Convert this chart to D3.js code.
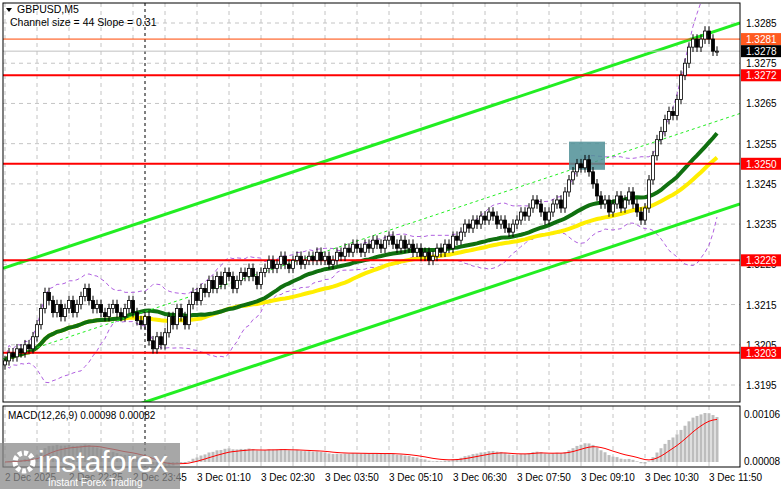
<!DOCTYPE html>
<html><head><meta charset="utf-8">
<script src="https://cdn.jsdelivr.net/npm/d3@7"></script>
<style>body{margin:0;background:#fff}text{font-family:"Liberation Sans",Arial,sans-serif}</style>
</head><body>
<script>
// closes of the M5 bars
var closes = [
 1.3201,1.3203,1.3202,1.3204,1.3203,1.3205,1.3204,1.3207,1.3210,1.3214,
 1.3218,1.3216,1.3213,1.3215,1.3212,1.3214,1.3216,1.3213,1.3215,1.3217,
 1.3219,1.3216,1.3214,1.3215,1.3213,1.3212,1.3214,1.3215,1.3213,1.3212,
 1.3214,1.3216,1.3213,1.3211,1.3210,1.3212,1.3206,1.3204,1.3207,1.3205,
 1.3208,1.3212,1.3210,1.3214,1.3212,1.3210,1.3215,1.3218,1.3216,1.3219,
 1.3218,1.3221,1.3219,1.3222,1.3220,1.3223,1.3222,1.3219,1.3221,1.3223,
 1.3222,1.3224,1.3222,1.3220,1.3223,1.3224,1.3226,1.3224,1.3225,1.3227,
 1.3225,1.3224,1.3226,1.3227,1.3225,1.3226,1.3227,1.3226,1.3228,1.3226,
 1.3227,1.3225,1.3226,1.3228,1.3227,1.3229,1.3228,1.3230,1.3229,1.3228,
 1.3230,1.3229,1.3231,1.3230,1.3229,1.3231,1.3232,1.3230,1.3229,1.3231,
 1.3229,1.3230,1.3228,1.3229,1.3227,1.3228,1.3226,1.3227,1.3229,1.3228,
 1.3230,1.3229,1.3232,1.3231,1.3233,1.3235,1.3234,1.3236,1.3235,1.3237,
 1.3236,1.3238,1.3237,1.3235,1.3236,1.3234,1.3233,1.3235,1.3236,1.3238,
 1.3237,1.3239,1.3241,1.3240,1.3238,1.3236,1.3238,1.3240,1.3241,1.3239,
 1.3243,1.3246,1.3248,1.3250,1.3249,1.3251,1.3248,1.3245,1.3242,1.3240,
 1.3241,1.3238,1.3240,1.3242,1.3239,1.3241,1.3243,1.3240,1.3238,1.3236,
 1.3239,1.3246,1.3252,1.3256,1.3258,1.3261,1.3263,1.3262,1.3266,1.3272,
 1.3275,1.3279,1.3281,1.3279,1.3281,1.3283,1.3281,1.3278,1.3278];
var priceTicks = [1.3195,1.3205,1.3215,1.3225,1.3235,1.3245,1.3255,1.3265,1.3275,1.3285];
var levels = [1.3272,1.3250,1.3226,1.3203];
var timeLabels = ["2 Dec 2025","2 Dec 22:25","2 Dec 23:45","3 Dec 01:10","3 Dec 02:30","3 Dec 03:50","3 Dec 05:10","3 Dec 06:30","3 Dec 07:50","3 Dec 09:10","3 Dec 10:30","3 Dec 11:50"];
var timeBars = [0,16,32,48,64,80,96,112,128,144,160,176];
var gridBars = d3.range(0, 180, 8);
var channelUpper = [1.3224,1.3285]; // at first and last axis pixel
var channelLower = [1.3179,1.3240];

var W = 781, H = 489, L = 3, R = 740, T = 3, B = 402, MT = 406, MB = 467;
var svg = d3.select("body").append("svg").attr("width", W).attr("height", H);
var y = d3.scaleLinear().domain([1.3195, 1.3285]).range([385, 23]);
var x = d3.scaleLinear().domain([0, 1]).range([L + 2, L + 6]); // 4px per bar
var xb = function(i) { return x(i); };
var chX = d3.scaleLinear().domain([0, 1]).range([L, R]);

var main = svg.append("g");
main.append("clipPath").attr("id", "c").append("rect").attr("x", L).attr("y", T).attr("width", R - L).attr("height", B - T);
var g = main.append("g").attr("clip-path", "url(#c)");

// grid
g.selectAll(".hg").data(priceTicks).enter().append("line")
  .attr("x1", L).attr("x2", R).attr("y1", d => y(d)).attr("y2", d => y(d))
  .attr("stroke", "#c4c4c4").attr("stroke-dasharray", "4,4");
g.selectAll(".vg").data(gridBars).enter().append("line")
  .attr("x1", d => xb(d)).attr("x2", d => xb(d)).attr("y1", T).attr("y2", B)
  .attr("stroke", "#c4c4c4").attr("stroke-dasharray", "4,4");
g.append("line").attr("x1", 145).attr("x2", 145).attr("y1", T).attr("y2", B)
  .attr("stroke", "#000").attr("stroke-dasharray", "3,3");

// moving averages and envelope
function sma(n) { return closes.map((c, i) => i < 1 ? c : d3.mean(closes.slice(Math.max(0, i - n + 1), i + 1))); }
var line = d3.line().x((d, i) => xb(i)).y(d => y(d));
var m20 = sma(20);
var sd = closes.map((c, i) => d3.deviation(closes.slice(Math.max(0, i - 19), i + 1)) || 0);
g.append("path").attr("d", line(m20.map((m, i) => m + 2 * sd[i]))).attr("fill", "none").attr("stroke", "#b060e0").attr("stroke-dasharray", "4,3");
g.append("path").attr("d", line(m20.map((m, i) => m - 2 * sd[i]))).attr("fill", "none").attr("stroke", "#b060e0").attr("stroke-dasharray", "4,3");
g.append("path").attr("d", line(sma(50))).attr("fill", "none").attr("stroke", "#ffee00").attr("stroke-width", 4);
g.append("path").attr("d", line(sma(30))).attr("fill", "none").attr("stroke", "#107010").attr("stroke-width", 4);

// channel
[[channelUpper, 3, null], [channelLower, 3, null], [[(channelUpper[0] + channelLower[0]) / 2, (channelUpper[1] + channelLower[1]) / 2], 1, "3,3"]].forEach(function(c) {
  g.append("line").attr("x1", chX(0)).attr("x2", chX(1)).attr("y1", y(c[0][0])).attr("y2", y(c[0][1]))
    .attr("stroke", "#22ee22").attr("stroke-width", c[1]).attr("stroke-dasharray", c[2]);
});

// levels
g.selectAll(".lv").data(levels).enter().append("line")
  .attr("x1", L).attr("x2", R).attr("y1", d => y(d)).attr("y2", d => y(d)).attr("stroke", "#ff0000").attr("stroke-width", 2);
g.append("line").attr("x1", L).attr("x2", R).attr("y1", y(1.3281)).attr("y2", y(1.3281)).attr("stroke", "#ff4500");
g.append("line").attr("x1", L).attr("x2", R).attr("y1", y(1.3278)).attr("y2", y(1.3278)).attr("stroke", "#c0c0c0");

// highlight box
g.append("rect").attr("x", xb(141)).attr("y", y(1.32555)).attr("width", xb(150) - xb(141)).attr("height", y(1.32485) - y(1.32555))
  .attr("fill", "#4f8f96").attr("opacity", 0.85);

// candles
var bars = closes.map((c, i) => { var o = i ? closes[i - 1] : c - 0.0001; return {i: i, o: o, c: c, h: Math.max(o, c) + 0.00012, l: Math.min(o, c) - 0.00012}; });
var cg = g.selectAll(".cd").data(bars).enter().append("g");
cg.append("line").attr("x1", d => xb(d.i)).attr("x2", d => xb(d.i)).attr("y1", d => y(d.h)).attr("y2", d => y(d.l)).attr("stroke", "#000");
cg.append("rect").attr("x", d => xb(d.i) - 1.5).attr("width", 3)
  .attr("y", d => y(Math.max(d.o, d.c))).attr("height", d => Math.max(1, Math.abs(y(d.o) - y(d.c))))
  .attr("fill", d => d.c >= d.o ? "#fff" : "#000").attr("stroke", "#000").attr("stroke-width", 0.8);

main.append("rect").attr("x", L).attr("y", T).attr("width", R - L).attr("height", B - T).attr("fill", "none").attr("stroke", "#000");

// right axis
svg.selectAll(".pt").data(priceTicks).enter().append("text").attr("x", 746).attr("y", d => y(d) + 4)
  .attr("font-size", 10).text(d => d.toFixed(4));
function tag(v, bg, fg) {
  svg.append("rect").attr("x", 741).attr("y", y(v) - 6).attr("width", 40).attr("height", 12).attr("fill", bg);
  svg.append("text").attr("x", 746).attr("y", y(v) + 4).attr("font-size", 10).attr("fill", fg).text(v.toFixed(4));
}
levels.forEach(v => tag(v, "#ff0000", "#fff"));
tag(1.3281, "#ff5a1f", "#fff");
tag(1.3278, "#000", "#fff");

svg.append("path").attr("d", "M6,8 L12,8 L9,12 Z").attr("fill", "#000");
svg.append("text").attr("x", 17).attr("y", 13).attr("font-size", 10.5).text("GBPUSD,M5");
svg.append("text").attr("x", 10).attr("y", 26).attr("font-size", 10.5).text("Channel size = 44 Slope = 0.31");

// MACD panel
var ema = function(n) { var k = 2 / (n + 1), e = closes[0]; return closes.map(c => (e = c * k + e * (1 - k))); };
var e12 = ema(12), e26 = ema(26);
var macd = e12.map((v, i) => v - e26[i]);
var sig = [], s = macd[0];
macd.forEach(v => { s = v * 0.2 + s * 0.8; sig.push(s); });
var my = d3.scaleLinear().domain([0, d3.max(macd)]).range([462, 413]);
svg.selectAll(".vgm").data(gridBars).enter().append("line")
  .attr("x1", d => xb(d)).attr("x2", d => xb(d)).attr("y1", MT).attr("y2", MB)
  .attr("stroke", "#c4c4c4").attr("stroke-dasharray", "4,4");
svg.append("line").attr("x1", 145).attr("x2", 145).attr("y1", MT).attr("y2", MB).attr("stroke", "#000").attr("stroke-dasharray", "3,3");
svg.selectAll(".mh").data(macd).enter().append("rect")
  .attr("x", (d, i) => xb(i) - 1.5).attr("width", 3)
  .attr("y", d => Math.min(my(d), my(0))).attr("height", d => Math.abs(my(d) - my(0)))
  .attr("fill", "#bdbdbd");
svg.append("path").attr("d", d3.line().x((d, i) => xb(i)).y(d => my(d))(sig)).attr("fill", "none").attr("stroke", "#ff0000");
svg.append("rect").attr("x", L).attr("y", MT).attr("width", R - L).attr("height", MB - MT).attr("fill", "none").attr("stroke", "#000");
svg.append("text").attr("x", 8).attr("y", 419).attr("font-size", 10).text("MACD(12,26,9) 0.00098 0.00082");
svg.append("text").attr("x", 744).attr("y", 418).attr("font-size", 10).text("0.00106");
svg.append("text").attr("x", 744).attr("y", 465).attr("font-size", 10).text("0.00008");

// time axis
svg.selectAll(".tl").data(timeLabels).enter().append("text")
  .attr("x", (d, i) => xb(timeBars[i])).attr("y", 481).attr("font-size", 10).text(d => d);

// watermark
var wm = svg.append("g");
wm.append("rect").attr("x", 0).attr("y", 443).attr("width", 180).attr("height", 46).attr("fill", "#8a8a8a").attr("opacity", 0.75);
wm.append("circle").attr("cx", 24).attr("cy", 462).attr("r", 9).attr("fill", "none").attr("stroke", "#fff").attr("stroke-width", 5).attr("stroke-dasharray", "4,2");
wm.append("text").attr("x", 38).attr("y", 472).attr("font-size", 30).attr("fill", "#fff").attr("font-family", "Lato, sans-serif").text("instaforex");
wm.append("text").attr("x", 48).attr("y", 486).attr("font-size", 10).attr("fill", "#fff").text("Instant Forex Trading");
</script>
</body></html>
